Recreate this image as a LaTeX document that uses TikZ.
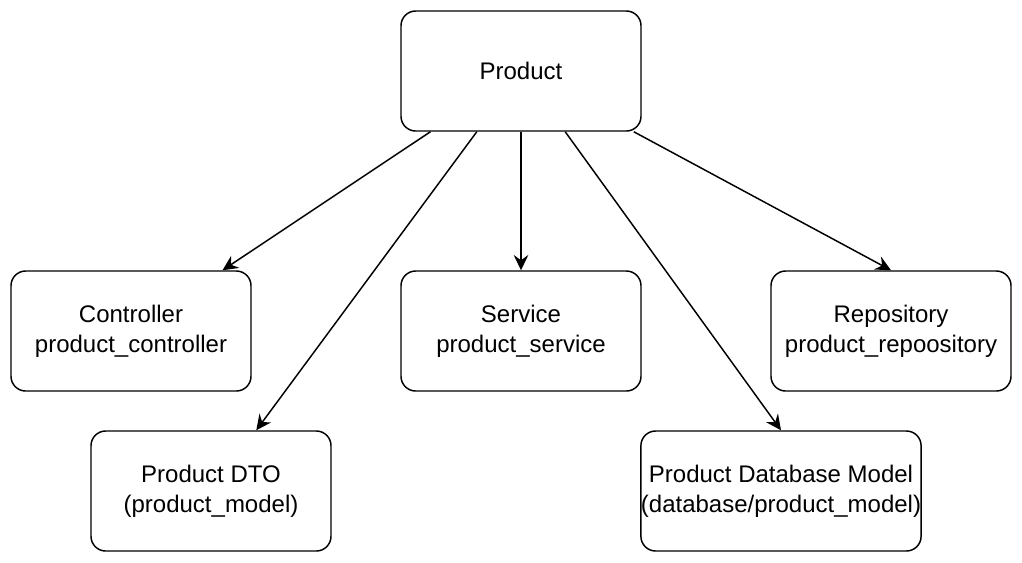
\documentclass[tikz,border=0pt]{standalone}
\usepackage{fontspec}
\setmainfont{Liberation Sans}
\usetikzlibrary{arrows.meta}
\usetikzlibrary{calc}

\tikzset{
    box/.style={draw, rounded corners=11pt, line width=1.1pt, align=center,
        minimum width=180pt, minimum height=90pt, inner sep=0pt,
        font=\fontsize{18}{22.5}\selectfont},
    link/.style={-{Stealth[length=11.5pt, width=11pt, inset=4pt]}, line width=1.1pt}
}

\begin{document}
\begin{tikzpicture}[x=0.75pt, y=-0.75pt]
    \useasboundingbox (0,0) rectangle (1022,562);

    \node[box] (product) at (521,71) {Product};
    \node[box] (controller) at (131,331) {Controller\\product\_controller};
    \node[box] (service) at (521,331) {Service\\product\_service};
    \node[box] (repository) at (891,331) {Repository\\product\_repoository};
    \node[box] (dto) at (211,491) {Product DTO\\(product\_model)};
    \node[box, minimum width=210pt] (dbmodel) at (781,491) {Product Database Model\\(database/product\_model)};

    \draw[link] ($(product.south west)!0.125!(product.south east)$) -- ($(controller.north west)!0.879!(controller.north east)$);
    \draw[link] ($(product.south west)!0.317!(product.south east)$) -- ($(dto.north west)!0.6875!(dto.north east)$);
    \draw[link] (product.south) -- (service.north);
    \draw[link] ($(product.south west)!0.683!(product.south east)$) -- (dbmodel.north);
    \draw[link] ($(product.south west)!0.967!(product.south east)$) -- (repository.north);
\end{tikzpicture}
\end{document}
